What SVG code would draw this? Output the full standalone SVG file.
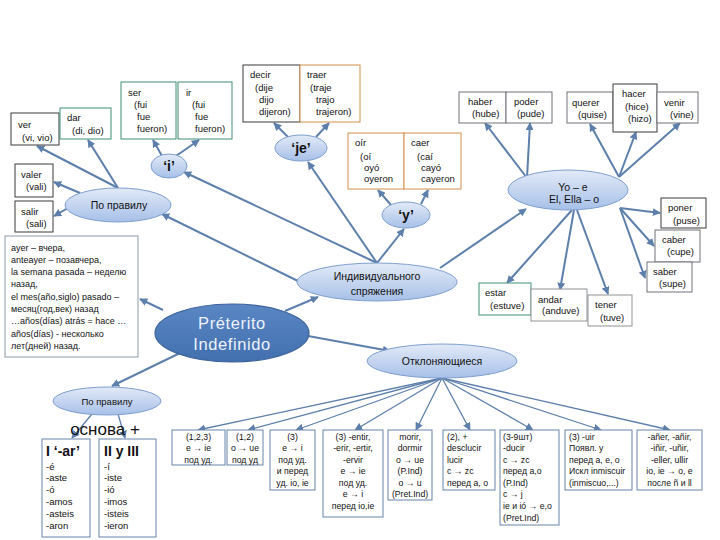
<svg xmlns="http://www.w3.org/2000/svg" width="720" height="540" viewBox="0 0 720 540">
<style>
text{font-family:"Liberation Sans","DejaVu Sans",sans-serif;font-size:9.5px;fill:#111}
.c{text-anchor:middle}
.b{fill:#fff;stroke-width:1}
.dk{stroke:#3a3a3a}
.gr{stroke:#3f8f76}
.or{stroke:#d3904a}
.gy{stroke:#6e7378}
.lg{stroke:#8e9296}
.bl{stroke:#6683a8}
.el{fill:url(#g);stroke:#7f9fcf;stroke-width:1}
.q{font-size:14px;font-weight:bold}
.s{font-size:8.7px}
.n{font-size:9px}
#conn line{stroke:#5d7fab;stroke-width:2;marker-end:url(#a)}
#conn .t line{stroke-width:1.3}
</style>
<defs>
<linearGradient id="g" x1="0" y1="0" x2="0" y2="1">
<stop offset="0" stop-color="#e2eaf7"/>
<stop offset="1" stop-color="#a7c0e8"/>
</linearGradient>
<linearGradient id="g2" x1="0" y1="0" x2="0" y2="1">
<stop offset="0" stop-color="#5a86c4"/>
<stop offset="1" stop-color="#426fae"/>
</linearGradient>
<marker id="a" viewBox="0 0 10 10" refX="9" refY="5" markerWidth="8" markerHeight="8" markerUnits="userSpaceOnUse" orient="auto">
<path d="M0,0 L10,5 L0,10 z" fill="#5d7fab"/>
</marker>
</defs>
<rect width="720" height="540" fill="#fff"/>

<g id="conn">
<line x1="118" y1="188" x2="37" y2="146"/>
<line x1="118" y1="188" x2="88" y2="140"/>
<line x1="80" y1="193" x2="54" y2="182"/>
<line x1="68" y1="208" x2="54" y2="216"/>
<line x1="300" y1="282" x2="162" y2="214"/>
<line x1="162" y1="156" x2="153" y2="140"/>
<line x1="176" y1="156" x2="199" y2="140"/>
<line x1="377" y1="263" x2="184" y2="172"/>
<line x1="377" y1="263" x2="308" y2="162"/>
<line x1="377" y1="263" x2="404" y2="229"/>
<line x1="288" y1="137" x2="274" y2="123"/>
<line x1="316" y1="137" x2="329" y2="123"/>
<line x1="391" y1="205" x2="378" y2="190"/>
<line x1="421" y1="204" x2="428" y2="190"/>
<line x1="440" y1="268" x2="526" y2="209"/>
<line x1="527" y1="178" x2="485" y2="123"/>
<line x1="527" y1="178" x2="530" y2="123"/>
<line x1="619" y1="177" x2="590" y2="124"/>
<line x1="619" y1="177" x2="636" y2="132"/>
<line x1="619" y1="177" x2="680" y2="123"/>
<line x1="620" y1="208" x2="660" y2="213"/>
<line x1="620" y1="208" x2="654" y2="246"/>
<line x1="620" y1="208" x2="645" y2="278"/>
<line x1="572" y1="210" x2="507" y2="283"/>
<line x1="574" y1="210" x2="560" y2="290"/>
<line x1="577" y1="210" x2="608" y2="294"/>
<line x1="285" y1="311" x2="318" y2="297"/>
<line x1="308" y1="336" x2="390" y2="351"/>
<line x1="163" y1="310" x2="140" y2="299"/>
<line x1="180" y1="353" x2="112" y2="386"/>
<g class="t">
<line x1="92" y1="414" x2="72" y2="438"/>
<line x1="118" y1="414" x2="125" y2="438"/>
<line x1="442" y1="378" x2="198" y2="430"/>
<line x1="442" y1="378" x2="248" y2="430"/>
<line x1="442" y1="378" x2="296" y2="430"/>
<line x1="442" y1="378" x2="355" y2="430"/>
<line x1="442" y1="378" x2="416" y2="430"/>
<line x1="442" y1="378" x2="470" y2="430"/>
<line x1="442" y1="378" x2="533" y2="430"/>
<line x1="442" y1="378" x2="601" y2="430"/>
<line x1="442" y1="378" x2="670" y2="430"/>
</g>
</g>

<g id="ver"><rect class="b dk" x="11" y="113" width="48" height="32"/><text x="18" y="128">ver</text><text x="22" y="141">(vi, vio)</text></g>
<g id="dar"><rect class="b gr" x="60" y="108" width="51" height="31"/><text x="67" y="121">dar</text><text x="72" y="134">(di, dio)</text></g>
<g id="ser"><rect class="b gr" x="121" y="82" width="55" height="57"/><text x="128" y="96">ser</text><text x="134" y="108">(fui</text><text x="137" y="120">fue</text><text x="137" y="132">fueron)</text></g>
<g id="ir"><rect class="b gr" x="178" y="82" width="54" height="57"/><text x="186" y="96">ir</text><text x="192" y="108">(fui</text><text x="195" y="120">fue</text><text x="195" y="132">fueron)</text></g>
<g id="valer"><rect class="b dk" x="15" y="164" width="38" height="33"/><text x="21" y="178">valer</text><text x="26" y="190">(vali)</text></g>
<g id="salir"><rect class="b dk" x="15" y="201" width="38" height="31"/><text x="21" y="215">salir</text><text x="26" y="227">(sali)</text></g>
<g id="decir"><rect class="b dk" x="243" y="65" width="57" height="57"/><text x="250" y="78">decir</text><text x="255" y="91">(dije</text><text x="259" y="103">dijo</text><text x="259" y="115">dijeron)</text></g>
<g id="traer"><rect class="b or" x="300" y="65" width="60" height="57"/><text x="307" y="78">traer</text><text x="310" y="91">(traje</text><text x="316" y="103">trajo</text><text x="316" y="115">trajeron)</text></g>
<g id="oir"><rect class="b or" x="348" y="133" width="56" height="56"/><text x="355" y="146">oír</text><text x="360" y="160">(oí</text><text x="364" y="171">oyó</text><text x="364" y="182">oyeron</text></g>
<g id="caer"><rect class="b or" x="404" y="133" width="57" height="56"/><text x="411" y="146">caer</text><text x="417" y="160">(caí</text><text x="421" y="171">cayó</text><text x="421" y="182">cayeron</text></g>
<g id="haber"><rect class="b gy" x="459" y="92" width="47" height="31"/><text x="468" y="105">haber</text><text x="472" y="117">(hube)</text></g>
<g id="poder"><rect class="b gy" x="506" y="92" width="46" height="31"/><text x="514" y="105">poder</text><text x="517" y="117">(pude)</text></g>
<g id="querer"><rect class="b gy" x="567" y="92" width="46" height="31"/><text x="572" y="106">querer</text><text x="578" y="118">(quise)</text></g>
<g id="hacer"><rect class="b dk" x="613" y="84" width="44" height="48"/><text x="622" y="97">hacer</text><text x="625" y="110">(hice)</text><text x="628" y="122">(hizo)</text></g>
<g id="venir"><rect class="b gy" x="657" y="92" width="41" height="31"/><text x="664" y="106">venir</text><text x="670" y="118">(vine)</text></g>
<g id="poner"><rect class="b dk" x="661" y="198" width="45" height="30"/><text x="668" y="211">poner</text><text x="673" y="224">(puse)</text></g>
<g id="caber"><rect class="b gy" x="655" y="230" width="45" height="32"/><text x="662" y="243">caber</text><text x="667" y="255">(cupe)</text></g>
<g id="saber"><rect class="b gy" x="647" y="262" width="45" height="30"/><text x="653" y="275">saber</text><text x="659" y="287">(supe)</text></g>
<g id="estar"><rect class="b gr" x="479" y="283" width="52" height="32"/><text x="485" y="296">estar</text><text x="490" y="309">(estuve)</text></g>
<g id="andar"><rect class="b lg" x="531" y="289" width="56" height="32"/><text x="538" y="303">andar</text><text x="542" y="314">(anduve)</text></g>
<g id="tener"><rect class="b lg" x="588" y="295" width="44" height="31"/><text x="595" y="308">tener</text><text x="600" y="321">(tuve)</text></g>

<g id="note"><rect class="b" stroke="#8a9aaa" x="5" y="236" width="133" height="121"/>
<text class="n" x="11" y="251">ayer – вчера,</text>
<text class="n" x="11" y="263">anteayer – позавчера,</text>
<text class="n" x="11" y="275">la semana pasada – неделю</text>
<text class="n" x="11" y="287">назад,</text>
<text class="n" x="11" y="300">el mes(año,siglo) pasado –</text>
<text class="n" x="11" y="312">месяц(год,век) назад</text>
<text class="n" x="11" y="324">…años(días) atrás = hace …</text>
<text class="n" x="11" y="337">años(días) - несколько</text>
<text class="n" x="11" y="349">лет(дней) назад.</text></g>

<g id="pp1"><ellipse class="el" cx="118" cy="205" rx="53" ry="17"/><text class="c" x="119" y="209" style="font-size:10.5px">По правилу</text></g>
<g id="i"><ellipse class="el" cx="169" cy="166" rx="18" ry="12"/><text class="c q" x="169" y="171">‘i’</text></g>
<g id="je"><ellipse class="el" cx="301" cy="148" rx="26" ry="13"/><text class="c q" x="301" y="153">‘je’</text></g>
<g id="y"><ellipse class="el" cx="406" cy="215" rx="24" ry="13"/><text class="c q" x="406" y="220">‘y’</text></g>
<g id="yo"><ellipse class="el" cx="568" cy="190" rx="60" ry="20"/><text class="c" x="573" y="191" style="font-size:10.5px">Yo – e</text><text class="c" x="574" y="203" style="font-size:10.5px">El, Ella – o</text></g>
<g id="ind"><ellipse class="el" cx="377" cy="282" rx="80" ry="19"/><text class="c" x="377" y="280" style="font-size:10.5px">Индивидуального</text><text class="c" x="377" y="295" style="font-size:10.5px">спряжения</text></g>
<g id="pret"><ellipse cx="232" cy="333" rx="77" ry="29" fill="url(#g2)" stroke="#3c609a" stroke-width="1.2"/><text class="c" x="232" y="329" style="font-size:16.5px;fill:#eef3fb;letter-spacing:0.6px">Préterito</text><text class="c" x="232" y="350" style="font-size:16.5px;fill:#eef3fb;letter-spacing:0.6px">Indefinido</text></g>
<g id="otk"><ellipse class="el" cx="442" cy="361" rx="75" ry="17"/><text class="c" x="442" y="365" style="font-size:10.5px">Отклоняющиеся</text></g>
<g id="pp2"><ellipse class="el" cx="107" cy="401" rx="54" ry="14"/><text class="c" x="107" y="405" style="font-size:9.5px">По правилу</text></g>
<text class="c" x="105" y="435" style="font-size:17px">основа +</text>

<g id="ar"><rect class="b bl" x="42" y="439" width="48" height="98"/><text class="q" x="46" y="456">I ‘-ar’</text>
<text x="46" y="470">-é</text><text x="46" y="481">-aste</text><text x="46" y="493">-ó</text><text x="46" y="505">-amos</text><text x="46" y="517">-asteis</text><text x="46" y="529">-aron</text></g>
<g id="er"><rect class="b bl" x="99" y="439" width="57" height="98"/><text class="q" x="104" y="456">II y III</text>
<text x="104" y="470">-í</text><text x="104" y="481">-iste</text><text x="104" y="493">-ió</text><text x="104" y="505">-imos</text><text x="104" y="517">-isteis</text><text x="104" y="529">-ieron</text></g>

<g id="b1"><rect class="b bl" x="172" y="430" width="53" height="35"/><text class="c s" x="198.5" y="439.5">(1,2,3)</text><text class="c s" x="198.5" y="451">e → ie</text><text class="c s" x="198.5" y="462.5">под уд.</text></g>
<g id="b2"><rect class="b bl" x="227" y="430" width="36" height="35"/><text class="c s" x="245" y="439.5">(1,2)</text><text class="c s" x="245" y="451">o → ue</text><text class="c s" x="245" y="462.5">под уд</text></g>
<g id="b3"><rect class="b bl" x="270" y="430" width="45" height="60"/><text class="c s" x="292.5" y="439.5">(3)</text><text class="c s" x="292.5" y="451">e → i</text><text class="c s" x="292.5" y="462.5">под уд.</text><text class="c s" x="292.5" y="474">и перед</text><text class="c s" x="292.5" y="485.5">уд. io, ie</text></g>
<g id="b4"><rect class="b bl" x="323" y="430" width="60" height="87"/><text class="c s" x="353" y="439.5">(3) -entir,</text><text class="c s" x="353" y="451">-erir, -ertir,</text><text class="c s" x="353" y="462.5">-ervir</text><text class="c s" x="353" y="474">e → ie</text><text class="c s" x="353" y="485.5">под уд.</text><text class="c s" x="353" y="497">e → i</text><text class="c s" x="353" y="509">перед io,ie</text></g>
<g id="b5"><rect class="b bl" x="388" y="430" width="44" height="70"/><text class="c s" x="410" y="439.5">morir,</text><text class="c s" x="410" y="451">dormir</text><text class="c s" x="410" y="462.5">o → ue</text><text class="c s" x="410" y="474">(P.Ind)</text><text class="c s" x="410" y="485.5">o → u</text><text class="c s" x="410" y="497">(Pret.Ind)</text></g>
<g id="b6"><rect class="b bl" x="443" y="430" width="52" height="60"/><text class="s" x="447" y="439.5">(2), +</text><text class="s" x="447" y="451">desclucir</text><text class="s" x="447" y="462.5">lucir</text><text class="s" x="447" y="474">c → zc</text><text class="s" x="447" y="485.5">перед a, o</text></g>
<g id="b7"><rect class="b bl" x="500" y="430" width="59" height="95"/><text class="s" x="503" y="439.5">(3-9шт)</text><text class="s" x="503" y="451">-ducir</text><text class="s" x="503" y="462.5">c → zc</text><text class="s" x="503" y="474">перед a,o</text><text class="s" x="503" y="485.5">(P.Ind)</text><text class="s" x="503" y="497">c → j</text><text class="s" x="503" y="509">ie и ió → e,o</text><text class="s" x="503" y="521">(Pret.Ind)</text></g>
<g id="b8"><rect class="b bl" x="565" y="430" width="67" height="60"/><text class="s" x="569" y="439.5">(3) -uir</text><text class="s" x="569" y="451">Появл. y</text><text class="s" x="569" y="462.5">перед a, e, o</text><text class="s" x="569" y="474">Искл inmiscuir</text><text class="s" x="569" y="485.5">(inmiscuo,...)</text></g>
<g id="b9"><rect class="b bl" x="637" y="430" width="65" height="60"/><text class="c s" x="669.5" y="439.5">-añer, -añir,</text><text class="c s" x="669.5" y="451">-iñir, -uñir,</text><text class="c s" x="669.5" y="462.5">-eller, ullir</text><text class="c s" x="669.5" y="474">io, ie → o, e</text><text class="c s" x="669.5" y="485.5">после ñ и ll</text></g>
</svg>
